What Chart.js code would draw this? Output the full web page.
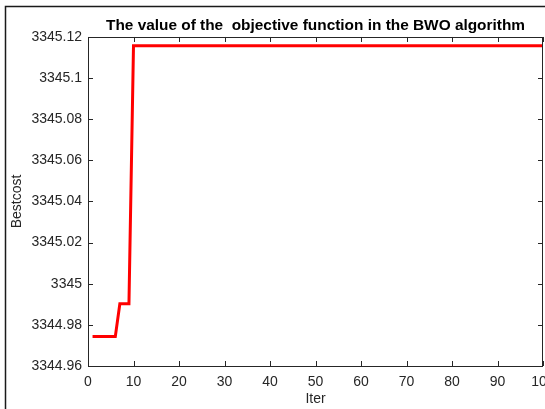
<!DOCTYPE html>
<html>
<head>
<meta charset="utf-8">
<script src="https://cdn.jsdelivr.net/npm/chart.js@4"></script>
<style>
  html, body { margin: 0; padding: 0; background: #ffffff; overflow: hidden; }
  #wrap { position: relative; width: 545px; height: 409px; }
</style>
</head>
<body>
<div id="wrap"><canvas id="c" width="545" height="409"></canvas></div>
<script>
// ---- data ----
const chartTitle = "The value of the  objective function in the BWO algorithm";
const xLabel = "Iter";
const yLabel = "Bestcost";
const iterations = [
  1,2,3,4,5,6,7,8,9,10,11,12,13,14,15,16,17,18,19,20,
  21,22,23,24,25,26,27,28,29,30,31,32,33,34,35,36,37,38,39,40,
  41,42,43,44,45,46,47,48,49,50,51,52,53,54,55,56,57,58,59,60,
  61,62,63,64,65,66,67,68,69,70,71,72,73,74,75,76,77,78,79,80,
  81,82,83,84,85,86,87,88,89,90,91,92,93,94,95,96,97,98,99,100
];
// iterations 1-6, 7-9, 10-100
const bestCost = [
  3344.9743,3344.9743,3344.9743,3344.9743,3344.9743,3344.9743,
  3344.9903,3344.9903,3344.9903,
  3345.1157,3345.1157,3345.1157,3345.1157,3345.1157,3345.1157,3345.1157,3345.1157,3345.1157,3345.1157,
  3345.1157,3345.1157,3345.1157,3345.1157,3345.1157,3345.1157,3345.1157,3345.1157,3345.1157,3345.1157,
  3345.1157,3345.1157,3345.1157,3345.1157,3345.1157,3345.1157,3345.1157,3345.1157,3345.1157,3345.1157,
  3345.1157,3345.1157,3345.1157,3345.1157,3345.1157,3345.1157,3345.1157,3345.1157,3345.1157,3345.1157,
  3345.1157,3345.1157,3345.1157,3345.1157,3345.1157,3345.1157,3345.1157,3345.1157,3345.1157,3345.1157,
  3345.1157,3345.1157,3345.1157,3345.1157,3345.1157,3345.1157,3345.1157,3345.1157,3345.1157,3345.1157,
  3345.1157,3345.1157,3345.1157,3345.1157,3345.1157,3345.1157,3345.1157,3345.1157,3345.1157,3345.1157,
  3345.1157,3345.1157,3345.1157,3345.1157,3345.1157,3345.1157,3345.1157,3345.1157,3345.1157,3345.1157,
  3345.1157,3345.1157,3345.1157,3345.1157,3345.1157,3345.1157,3345.1157,3345.1157,3345.1157,3345.1157,
  3345.1157
];
const xMin = 0, xMax = 100, xStep = 10;
const yMin = 3344.96, yMax = 3345.12, yStep = 0.02;

// ---- styling ----
const axisColor = '#262626';
const fontFamily = '"Liberation Sans", Arial, Helvetica, sans-serif';

const points = iterations.map((it, i) => ({ x: it, y: bestCost[i] }));

// MATLAB-like box with inward tick marks on all four sides + outer figure frame
const matlabBox = {
  id: 'matlabBox',
  beforeDraw(chart) {
    const ctx = chart.ctx;
    ctx.save();
    ctx.fillStyle = '#ffffff';
    ctx.fillRect(0, 0, chart.width, chart.height);
    ctx.strokeStyle = '#1a1a1a';
    ctx.lineWidth = 1.5;
    ctx.strokeRect(5.5, 6.5, chart.width + 50, chart.height + 50);
    ctx.restore();
  },
  afterDatasetsDraw(chart) {
    const ctx = chart.ctx;
    const a = chart.chartArea;
    const xs = chart.scales.x, ys = chart.scales.y;
    const tl = 5;
    ctx.save();
    ctx.strokeStyle = axisColor;
    ctx.lineWidth = 1;
    ctx.beginPath();
    xs.ticks.forEach(t => {
      const px = Math.round(xs.getPixelForValue(t.value)) + 0.5;
      ctx.moveTo(px, a.bottom); ctx.lineTo(px, a.bottom - tl);
      ctx.moveTo(px, a.top); ctx.lineTo(px, a.top + tl);
    });
    ys.ticks.forEach(t => {
      const py = Math.round(ys.getPixelForValue(t.value)) + 0.5;
      ctx.moveTo(a.left, py); ctx.lineTo(a.left + tl, py);
      ctx.moveTo(a.right, py); ctx.lineTo(a.right - tl, py);
    });
    ctx.stroke();
    ctx.strokeRect(Math.round(a.left) + 0.5, Math.round(a.top) + 0.5,
                   Math.round(a.right - a.left) - 1, Math.round(a.bottom - a.top));
    ctx.restore();
  }
};

new Chart(document.getElementById('c'), {
  type: 'line',
  data: {
    datasets: [{
      data: points,
      borderColor: '#ff0000',
      backgroundColor: '#ff0000',
      borderWidth: 3,
      pointRadius: 0,
      tension: 0,
      fill: false
    }]
  },
  options: {
    responsive: false,
    devicePixelRatio: 1,
    animation: false,
    layout: { padding: { left: 0, right: 2, top: 0, bottom: 0 } },
    plugins: {
      legend: { display: false },
      tooltip: { enabled: false },
      title: {
        display: true,
        text: chartTitle,
        fullSize: false,
        color: '#000000',
        font: { family: fontFamily, size: 15.4, weight: 'bold', lineHeight: 1.2 },
        padding: { top: 16.5, bottom: 2 }
      }
    },
    scales: {
      x: {
        type: 'linear',
        min: xMin, max: xMax,
        grid: { display: false, drawTicks: false },
        border: { display: false },
        ticks: {
          stepSize: xStep,
          color: axisColor,
          padding: 8,
          maxRotation: 0,
          autoSkip: false,
          font: { family: fontFamily, size: 14 }
        },
        title: {
          display: true,
          text: xLabel,
          color: axisColor,
          font: { family: fontFamily, size: 14, lineHeight: 1.2 },
          padding: { top: 0, bottom: 1.6 }
        },
        afterFit(scale) {
          scale.height = 43;
          scale.paddingLeft = 0;
          scale.paddingRight = 0;
        }
      },
      y: {
        min: yMin, max: yMax,
        grid: { display: false, drawTicks: false },
        border: { display: false },
        ticks: {
          stepSize: yStep,
          color: axisColor,
          padding: 6,
          autoSkip: false,
          font: { family: fontFamily, size: 14 },
          callback: (v) => String(Number(Number(v).toFixed(2)))
        },
        title: {
          display: true,
          text: yLabel,
          color: axisColor,
          font: { family: fontFamily, size: 14, lineHeight: 1.2 },
          padding: { top: 8.6, bottom: 0 }
        },
        afterFit(scale) {
          scale.width = 88;
          scale.paddingTop = 0;
          scale.paddingBottom = 0;
        }
      }
    }
  },
  plugins: [matlabBox]
});
</script>
</body>
</html>
